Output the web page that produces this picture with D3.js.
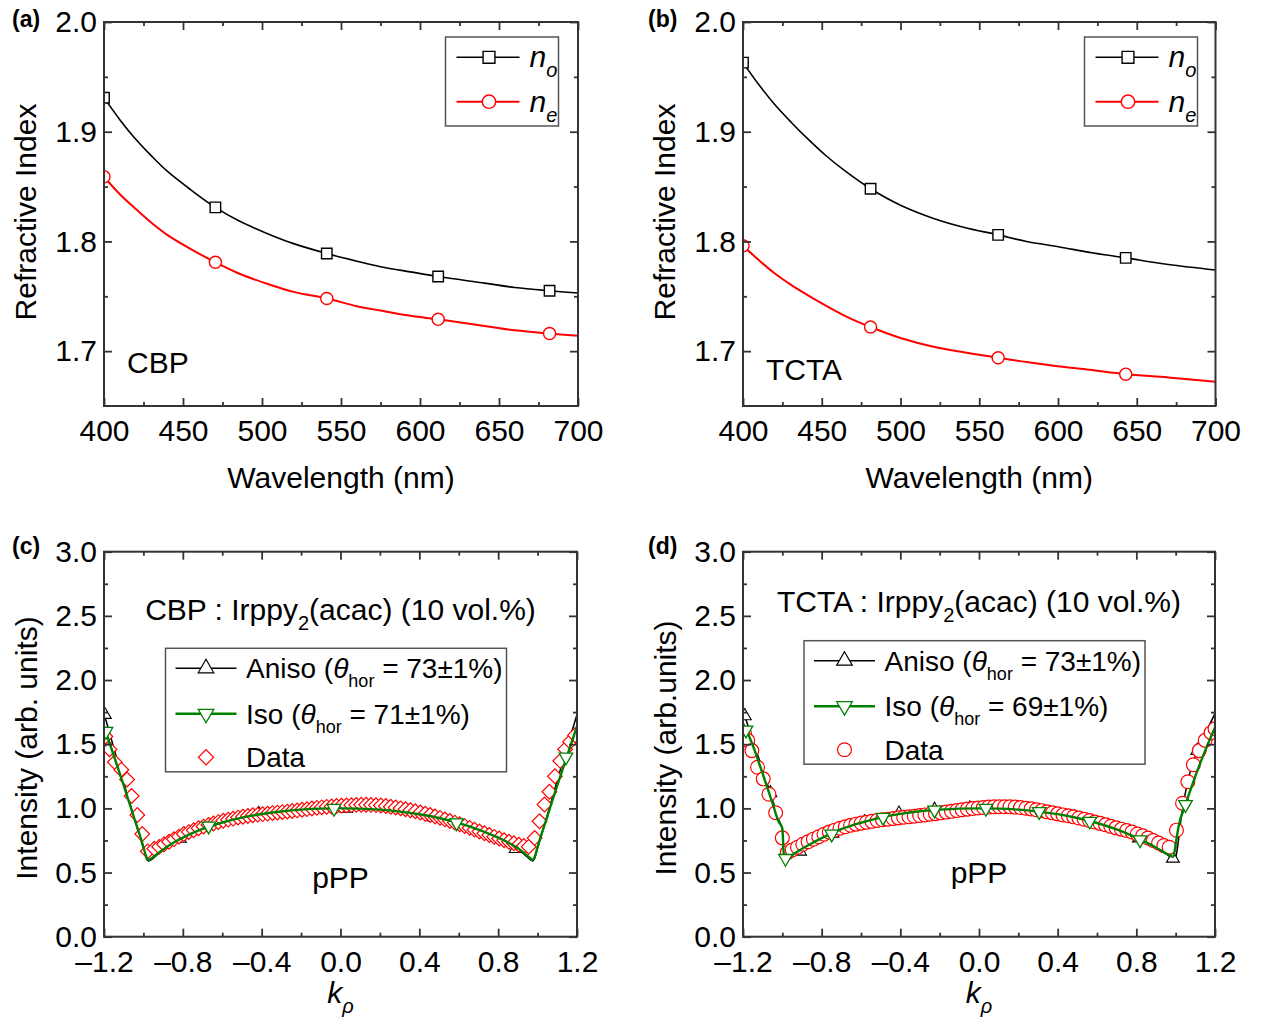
<!DOCTYPE html>
<html><head><meta charset="utf-8">
<script src="https://cdn.jsdelivr.net/npm/d3@7"></script>
<style>body{margin:0;background:#fff}svg{display:block}</style>
</head><body>
<script>
// ---------------- DATA ----------------
// Panel (a) CBP: refractive index curves [wavelength nm, n]
const noCBP = [[400,1.931],[410,1.911],[419,1.895],[430,1.878],[440,1.864],[455,1.847],[470.5,1.831],[485,1.819],[502,1.808],[520,1.798],[541,1.789],[560,1.782],[575,1.777],[595,1.772],[611.5,1.768],[641,1.762],[660,1.758],[682,1.755],[700,1.753]];
const neCBP = [[400,1.859],[410,1.843],[419,1.831],[430,1.817],[440,1.806],[455,1.793],[470.5,1.781],[485,1.771],[502,1.762],[520,1.754],[541,1.748],[560,1.741],[575,1.737],[595,1.732],[611.5,1.729],[641,1.723],[660,1.719],[682,1.716],[700,1.714]];
const noCBPmk = [[400,1.931],[470.5,1.831],[541,1.789],[611.5,1.768],[682,1.755]];
const neCBPmk = [[400,1.859],[470.5,1.781],[541,1.748],[611.5,1.729],[682,1.716]];
// Panel (b) TCTA
const noTCTA = [[400,1.963],[410,1.943],[420,1.925],[431,1.908],[440,1.895],[452,1.879],[465,1.864],[481,1.848],[500,1.833],[521,1.821],[540,1.813],[562,1.806],[580,1.800],[601,1.795],[620,1.790],[643,1.785],[670,1.779],[700,1.774]];
const neTCTA = [[400,1.796],[410,1.783],[420,1.771],[431,1.760],[440,1.752],[452,1.742],[465,1.732],[481,1.722],[500,1.712],[521,1.704],[540,1.699],[562,1.694],[580,1.690],[601,1.686],[620,1.683],[643,1.679],[670,1.676],[700,1.672]];
const noTCTAmk = [[400,1.963],[481,1.848],[562,1.806],[643,1.785]];
const neTCTAmk = [[400,1.796],[481,1.722],[562,1.694],[643,1.679]];

// Panel (c) CBP:Irppy2(acac) [k_rho, intensity]
const anisoC = [[-1.2,1.74],[-1.15,1.47],[-1.1,1.20],[-1.05,0.94],[-1.0,0.69],[-0.985,0.61],[-0.975,0.59],[-0.96,0.60],[-0.93,0.64],[-0.9,0.675],[-0.85,0.725],[-0.8,0.768],[-0.7,0.838],[-0.6,0.89],[-0.5,0.928],[-0.4,0.958],[-0.3,0.978],[-0.2,0.992],[-0.1,0.999],[0,1.0],[0.1,0.998],[0.2,0.99],[0.3,0.976],[0.4,0.955],[0.5,0.925],[0.6,0.883],[0.7,0.83],[0.8,0.765],[0.85,0.726],[0.9,0.68],[0.93,0.645],[0.96,0.605],[0.975,0.59],[0.985,0.61],[1.0,0.69],[1.05,0.95],[1.1,1.22],[1.15,1.48],[1.2,1.73]];
const isoC = [[-1.2,1.64],[-1.15,1.41],[-1.1,1.18],[-1.05,0.94],[-1.0,0.70],[-0.985,0.62],[-0.975,0.598],[-0.96,0.61],[-0.93,0.645],[-0.9,0.68],[-0.85,0.73],[-0.8,0.772],[-0.7,0.84],[-0.6,0.89],[-0.5,0.928],[-0.4,0.956],[-0.3,0.976],[-0.2,0.99],[-0.1,0.998],[0,1.0],[0.1,0.998],[0.2,0.99],[0.3,0.975],[0.4,0.954],[0.5,0.925],[0.6,0.885],[0.7,0.835],[0.8,0.772],[0.85,0.735],[0.9,0.69],[0.93,0.655],[0.96,0.615],[0.975,0.598],[0.985,0.62],[1.0,0.70],[1.05,0.94],[1.1,1.18],[1.15,1.41],[1.2,1.64]];
const anisoCmk = [[-1.196,1.73],[-0.815,0.765],[-0.414,0.957],[0.03,1.0],[0.474,0.93],[0.889,0.685]];
const isoCmk = [[-1.19,1.60],[-0.669,0.862],[-0.033,1.0],[0.589,0.888],[1.144,1.40]];
const dataC = [[-1.193,1.56],[-1.172,1.46],[-1.145,1.36],[-1.112,1.30],[-1.083,1.225],[-1.06,1.096],[-1.031,0.948],[-1.006,0.80],[-0.978,0.665],
[-0.945,0.685],[-0.92,0.70],[-0.895,0.72],[-0.87,0.74],[-0.845,0.76],[-0.82,0.78],[-0.795,0.80],[-0.77,0.815],[-0.745,0.83],[-0.72,0.845],
[-0.695,0.858],[-0.67,0.87],[-0.645,0.882],[-0.62,0.893],[-0.595,0.903],[-0.57,0.912],[-0.545,0.92],[-0.52,0.928],[-0.495,0.935],[-0.47,0.941],
[-0.445,0.946],[-0.42,0.951],[-0.395,0.955],[-0.37,0.959],[-0.345,0.963],[-0.32,0.967],[-0.295,0.971],[-0.27,0.975],[-0.245,0.979],[-0.22,0.984],
[-0.195,0.989],[-0.17,0.994],[-0.145,0.999],[-0.12,1.004],[-0.095,1.008],[-0.07,1.012],[-0.045,1.015],[-0.02,1.018],[0.005,1.021],[0.03,1.023],
[0.055,1.025],[0.08,1.027],[0.105,1.028],[0.13,1.028],[0.155,1.027],[0.18,1.025],[0.205,1.022],[0.23,1.018],[0.255,1.013],[0.28,1.007],
[0.305,1.0],[0.33,0.993],[0.355,0.985],[0.38,0.977],[0.405,0.968],[0.43,0.958],[0.455,0.948],[0.48,0.937],[0.505,0.926],[0.53,0.914],
[0.555,0.902],[0.58,0.889],[0.605,0.876],[0.63,0.862],[0.655,0.848],[0.68,0.834],[0.705,0.82],[0.73,0.806],[0.755,0.792],[0.78,0.778],
[0.805,0.765],[0.83,0.752],[0.855,0.74],[0.88,0.728],[0.905,0.717],[0.93,0.707],[0.955,0.70],
[0.985,0.77],[1.01,0.90],[1.035,1.03],[1.06,1.13],[1.088,1.25],[1.115,1.37],[1.14,1.46],[1.165,1.52],[1.19,1.57]];

// Panel (d) TCTA:Irppy2(acac)
const anisoD = [[-1.2,1.76],[-1.15,1.53],[-1.1,1.30],[-1.061,1.12],[-1.02,0.92],[-1.0,0.83],[-0.99,0.62],[-0.975,0.60],[-0.95,0.62],[-0.91,0.665],[-0.85,0.72],[-0.8,0.762],[-0.75,0.80],[-0.7,0.835],[-0.6,0.89],[-0.5,0.932],[-0.4,0.962],[-0.3,0.982],[-0.2,0.995],[-0.1,1.0],[0,1.002],[0.1,1.0],[0.2,0.993],[0.3,0.978],[0.4,0.957],[0.5,0.928],[0.6,0.89],[0.7,0.84],[0.8,0.775],[0.85,0.735],[0.9,0.69],[0.95,0.645],[0.975,0.62],[0.99,0.605],[1.0,0.62],[1.03,0.95],[1.06,1.2],[1.11,1.45],[1.15,1.58],[1.2,1.74]];
const isoD = [[-1.2,1.66],[-1.174,1.58],[-1.15,1.49],[-1.1,1.27],[-1.05,1.04],[-1.02,0.90],[-1.0,0.845],[-0.992,0.63],[-0.984,0.605],[-0.97,0.615],[-0.95,0.635],[-0.9,0.685],[-0.85,0.728],[-0.8,0.768],[-0.75,0.805],[-0.7,0.838],[-0.6,0.888],[-0.5,0.928],[-0.4,0.957],[-0.3,0.977],[-0.2,0.99],[-0.1,0.998],[0,1.0],[0.1,0.998],[0.2,0.99],[0.3,0.975],[0.4,0.955],[0.5,0.925],[0.6,0.886],[0.7,0.836],[0.8,0.772],[0.85,0.735],[0.9,0.695],[0.95,0.65],[0.975,0.63],[0.988,0.622],[1.0,0.72],[1.015,0.86],[1.05,1.03],[1.1,1.25],[1.15,1.45],[1.2,1.63]];
const anisoDmk = [[-1.191,1.72],[-1.061,1.12],[-0.91,0.665],[-0.745,0.805],[-0.582,0.893],[-0.407,0.96],[-0.226,0.99],[-0.046,1.0],[0.13,1.0],[0.306,0.978],[0.487,0.93],[0.658,0.865],[0.813,0.768],[0.986,0.61],[1.11,1.45]];
const isoDmk = [[-1.185,1.61],[-0.984,0.61],[-0.749,0.80],[-0.488,0.93],[-0.226,0.987],[0.035,1.0],[0.306,0.975],[0.563,0.90],[0.819,0.755],[1.05,1.03]];
const dataD = [[-1.192,1.58],[-1.176,1.53],[-1.155,1.45],[-1.126,1.32],[-1.097,1.23],[-1.068,1.11],[-1.034,0.966],[-1.0,0.77],[-0.975,0.655],
[-0.95,0.676],[-0.923,0.697],[-0.896,0.72],[-0.869,0.74],[-0.842,0.76],[-0.815,0.779],[-0.788,0.798],[-0.761,0.815],[-0.734,0.83],[-0.707,0.845],
[-0.68,0.857],[-0.653,0.868],[-0.626,0.877],[-0.599,0.885],[-0.572,0.892],[-0.545,0.899],[-0.518,0.905],[-0.491,0.911],[-0.464,0.916],[-0.437,0.921],
[-0.41,0.926],[-0.383,0.931],[-0.356,0.935],[-0.329,0.939],[-0.302,0.944],[-0.275,0.949],[-0.248,0.954],[-0.221,0.959],[-0.194,0.965],[-0.167,0.971],
[-0.14,0.977],[-0.113,0.983],[-0.086,0.989],[-0.059,0.994],[-0.032,0.999],[-0.005,1.003],[0.022,1.007],[0.049,1.01],[0.076,1.012],[0.103,1.013],
[0.13,1.013],[0.157,1.012],[0.184,1.01],[0.211,1.006],[0.238,1.001],[0.265,0.996],[0.292,0.989],[0.319,0.982],[0.346,0.973],[0.373,0.965],
[0.4,0.957],[0.427,0.949],[0.454,0.942],[0.481,0.934],[0.508,0.925],[0.535,0.915],[0.562,0.905],[0.589,0.894],[0.616,0.883],[0.643,0.872],
[0.67,0.86],[0.697,0.848],[0.724,0.838],[0.751,0.828],[0.778,0.816],[0.805,0.80],[0.832,0.786],[0.859,0.769],[0.886,0.75],[0.913,0.73],
[0.94,0.71],[0.967,0.697],
[1.004,0.83],[1.035,1.04],[1.062,1.207],[1.09,1.34],[1.12,1.45],[1.15,1.53],[1.18,1.59],[1.2,1.62]];

// Ticks
const wlTicks = [400,450,500,550,600,650,700];
const wlMinor = [425,475,525,575,625,675];
const nTicks = [1.7,1.8,1.9,2.0];
const nMinor = [1.75,1.85,1.95];
const kTicks = [-1.2,-0.8,-0.4,0,0.4,0.8,1.2];
const kMinor = [-1.0,-0.6,-0.2,0.2,0.6,1.0];
const iTicks = [0,0.5,1.0,1.5,2.0,2.5,3.0];
const iMinor = [0.25,0.75,1.25,1.75,2.25,2.75];

// ---------------- DRAWING ----------------
const FONT = '"Liberation Sans", Arial, Helvetica, sans-serif';
const AX = '#333';
const RED = '#ff0000', GREEN = '#008000';
const svg = d3.select('body').append('svg').attr('width',1261).attr('height',1021)
  .attr('font-family',FONT);

function setup(id, x0, x1, y0, y1, xdom, ydom) {
  const x = d3.scaleLinear().domain(xdom).range([x0,x1]);
  const y = d3.scaleLinear().domain(ydom).range([y1,y0]);
  svg.append('clipPath').attr('id','clip'+id).append('rect')
    .attr('x',x0).attr('y',y0).attr('width',x1-x0).attr('height',y1-y0);
  const plot = svg.append('g').attr('clip-path',`url(#clip${id})`);
  return {x,y,plot,x0,x1,y0,y1};
}
function curve(P, pts, color, w, cv) {
  P.plot.append('path').datum(pts)
    .attr('d', d3.line().x(d=>P.x(d[0])).y(d=>P.y(d[1])).curve(cv || d3.curveMonotoneX))
    .attr('fill','none').attr('stroke',color).attr('stroke-width',w).attr('stroke-linejoin','round');
}
function marks(P, pts, type, size, stroke, sw, rot) {
  P.plot.append('g').selectAll('path').data(pts).join('path')
    .attr('transform', d=>`translate(${P.x(d[0])},${P.y(d[1])}) rotate(${rot||0})`)
    .attr('d', d3.symbol().type(type).size(size)())
    .attr('fill','#fff').attr('stroke',stroke).attr('stroke-width',sw);
}
function axes(P, o) {
  const g = svg.append('g');
  const mk = (gen, t, vals, size, fmt, pad) => {
    const a = g.append('g').attr('transform', t)
      .call(gen.tickValues(vals).tickSizeInner(-size).tickSizeOuter(0).tickPadding(pad||0).tickFormat(fmt || (()=>'')));
    a.select('.domain').remove();
    a.selectAll('line').attr('stroke',AX).attr('stroke-width',1.8);
    a.attr('font-size',30).attr('font-family',FONT);
    a.selectAll('text').attr('fill','#000');
  };
  mk(d3.axisBottom(P.x), `translate(0,${P.y1})`, o.xt, 8, o.xf, 14);
  mk(d3.axisBottom(P.x), `translate(0,${P.y1})`, o.xm, 4);
  mk(d3.axisTop(P.x), `translate(0,${P.y0})`, o.xt, 8);
  mk(d3.axisTop(P.x), `translate(0,${P.y0})`, o.xm, 4);
  mk(d3.axisLeft(P.y), `translate(${P.x0},0)`, o.yt, 8, o.yf, 7);
  mk(d3.axisLeft(P.y), `translate(${P.x0},0)`, o.ym, 4);
  mk(d3.axisRight(P.y), `translate(${P.x1},0)`, o.yt, 8);
  mk(d3.axisRight(P.y), `translate(${P.x1},0)`, o.ym, 4);
  g.append('rect').attr('x',P.x0).attr('y',P.y0).attr('width',P.x1-P.x0).attr('height',P.y1-P.y0)
    .attr('fill','none').attr('stroke',AX).attr('stroke-width',2);
}
// rich text: parts = [{t, it, sub}]
function rich(x, y, parts, size, anchor, g) {
  const t = (g||svg).append('text').attr('x',x).attr('y',y).attr('font-size',size)
    .attr('text-anchor',anchor||'start').attr('fill','#000');
  let inSub = false;
  const sd = Math.round(size*0.32);
  parts.forEach(p => {
    const ts = t.append('tspan').text(p.t);
    if (p.it) ts.attr('font-style','italic');
    if (p.sub) { ts.attr('font-size', Math.round(size*0.66)); if (!inSub) ts.attr('dy', sd); inSub = true; }
    else if (inSub) { ts.attr('dy', -sd); inSub = false; }
  });
  return t;
}
function label(x, y, txt, size, opts) {
  const t = svg.append('text').attr('x',x).attr('y',y).attr('font-size',size).attr('fill','#000').text(txt);
  if (opts) Object.entries(opts).forEach(([k,v]) => t.attr(k,v));
  return t;
}
const f1 = d => d.toFixed(1);
const fk = d => (d < 0 ? '\u2013' + Math.abs(d).toFixed(1) : d.toFixed(1));

// ---- refractive-index panels ----
function nPanel(id, x0, x1, no, ne, noMk, neMk, name, nameX, nameY, lg) {
  const P = setup(id, x0, x1, 22, 406, [400,700], [1.65,2.0]);
  curve(P, no, '#000', 1.6, d3.curveCatmullRom.alpha(0.5));
  curve(P, ne, RED, 2, d3.curveCatmullRom.alpha(0.5));
  marks(P, noMk, d3.symbolSquare, 110, '#000', 1.4);
  marks(P, neMk, d3.symbolCircle, 115, RED, 1.4);
  axes(P, {xt:wlTicks, xm:wlMinor, yt:nTicks, ym:nMinor, xf:d=>String(d), yf:f1});
  label(nameX, nameY, name, 30);
  // legend
  const L = svg.append('g');
  L.append('rect').attr('x',lg.x).attr('y',37).attr('width',113).attr('height',89)
    .attr('fill','#fff').attr('stroke','#555').attr('stroke-width',1.5);
  const rows = [{y:57.3, c:'#000', s:d3.symbolSquare, sub:'o'},{y:101.7, c:RED, s:d3.symbolCircle, sub:'e'}];
  rows.forEach(r => {
    L.append('line').attr('x1',lg.x+11).attr('x2',lg.x+74).attr('y1',r.y).attr('y2',r.y)
      .attr('stroke',r.c).attr('stroke-width',r.c===RED?2:1.6);
    L.append('path').attr('transform',`translate(${lg.x+43.5},${r.y})`).attr('d',d3.symbol().type(r.s).size(140)())
      .attr('fill','#fff').attr('stroke',r.c).attr('stroke-width',1.4);
    rich(lg.x+84, r.y+10, [{t:'n', it:true},{t:r.sub, it:true, sub:true}], 30, 'start', L);
  });
  // axis titles
  label(x0 + (x1-x0)/2, 488, 'Wavelength (nm)', 30, {'text-anchor':'middle'});
  svg.append('text').attr('transform',`translate(${x0-68.5},212) rotate(-90)`).attr('text-anchor','middle')
    .attr('font-size',30).attr('fill','#000').text('Refractive Index');
}
nPanel('a', 104, 578, noCBP, neCBP, noCBPmk, neCBPmk, 'CBP', 127, 373, {x:445.5});
nPanel('b', 743, 1215.5, noTCTA, neTCTA, noTCTAmk, neTCTAmk, 'TCTA', 766, 380, {x:1084.5});

// ---- intensity panels ----
function iPanel(id, x0, x1, aniso, iso, aMk, iMk, data, dataSym, title, ylab, lg, isoVal, pppY, titleY) {
  const P = setup(id, x0, x1, 551.7, 936.7, [-1.2,1.2], [0,3]);
  curve(P, aniso, '#000', 1.5);
  marks(P, aMk, d3.symbolTriangle, 72, '#000', 1.1);
  if (dataSym === 'diamond') marks(P, data, d3.symbolSquare, 108, RED, 1.2, 45);
  else marks(P, data, d3.symbolCircle, 150, RED, 1.2);
  curve(P, iso, GREEN, 2.4);
  marks(P, iMk, d3.symbolTriangle, 80, GREEN, 1.3, 180);
  axes(P, {xt:kTicks, xm:kMinor, yt:iTicks, ym:iMinor, xf:fk, yf:f1});
  const cx = x0 + (x1-x0)/2;
  rich(cx, titleY, [{t:title + ' : Irppy'},{t:'2', sub:true},{t:'(acac) (10 vol.%)'}], 30, 'middle');
  label(cx, pppY, 'pPP', 30, {'text-anchor':'middle'});
  // legend
  const L = svg.append('g');
  L.append('rect').attr('x',lg.x).attr('y',lg.y).attr('width',341).attr('height',123.5)
    .attr('fill','#fff').attr('stroke','#555').attr('stroke-width',1.5);
  const r1 = lg.y+20, r2 = lg.y+65.5, r3 = lg.y+109;
  const lx1 = lg.x+10, lx2 = lg.x+71, sx = lg.x+40.5, tx = lg.x+80.5;
  L.append('line').attr('x1',lx1).attr('x2',lx2).attr('y1',r1).attr('y2',r1).attr('stroke','#000').attr('stroke-width',1.5);
  L.append('path').attr('transform',`translate(${sx},${r1})`).attr('d',d3.symbol().type(d3.symbolTriangle).size(105)())
    .attr('fill','#fff').attr('stroke','#000').attr('stroke-width',1.2);
  L.append('line').attr('x1',lx1).attr('x2',lx2).attr('y1',r2).attr('y2',r2).attr('stroke',GREEN).attr('stroke-width',2.4);
  L.append('path').attr('transform',`translate(${sx},${r2}) rotate(180)`).attr('d',d3.symbol().type(d3.symbolTriangle).size(105)())
    .attr('fill','#fff').attr('stroke',GREEN).attr('stroke-width',1.3);
  if (dataSym === 'diamond')
    L.append('path').attr('transform',`translate(${sx},${r3}) rotate(45)`).attr('d',d3.symbol().type(d3.symbolSquare).size(115)())
      .attr('fill','#fff').attr('stroke',RED).attr('stroke-width',1.2);
  else
    L.append('path').attr('transform',`translate(${sx},${r3})`).attr('d',d3.symbol().type(d3.symbolCircle).size(150)())
      .attr('fill','#fff').attr('stroke',RED).attr('stroke-width',1.2);
  rich(tx, r1+10, [{t:'Aniso ('},{t:'\u03B8', it:true},{t:'hor', sub:true},{t:' = 73\u00B11%)'}], 28, 'start', L);
  rich(tx, r2+10, [{t:'Iso ('},{t:'\u03B8', it:true},{t:'hor', sub:true},{t:' = ' + isoVal + '\u00B11%)'}], 28, 'start', L);
  rich(tx, r3+10, [{t:'Data'}], 28, 'start', L);
  // axis titles
  rich(cx, 1003, [{t:'k', it:true},{t:'\u03C1', it:true, sub:true}], 30, 'middle');
  svg.append('text').attr('transform',`translate(${x0-67},748) rotate(-90)`).attr('text-anchor','middle')
    .attr('font-size',30).attr('fill','#000').text(ylab);
}
iPanel('c', 104, 577, anisoC, isoC, anisoCmk, isoCmk, dataC, 'diamond', 'CBP', 'Intensity (arb. units)', {x:165.5, y:648.3}, '71', 888, 620);
iPanel('d', 743, 1215, anisoD, isoD, anisoDmk, isoDmk, dataD, 'circle', 'TCTA', 'Intensity (arb.units)', {x:804, y:640.7}, '69', 883, 612);

// panel letters
[['(a)',12,27],['(b)',648,27],['(c)',12,554],['(d)',648,554]].forEach(([t,x,y]) =>
  label(x, y, t, 23, {'font-weight':'bold'}));
</script>
</body></html>
